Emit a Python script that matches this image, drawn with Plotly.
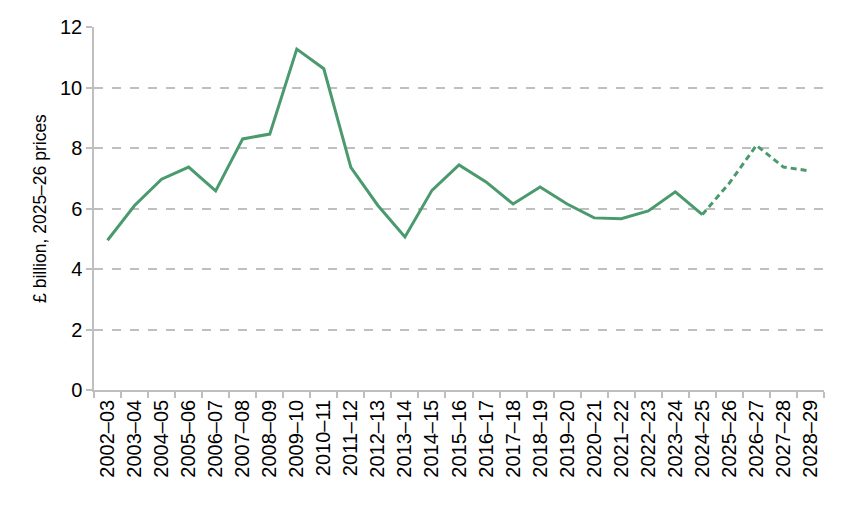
import plotly.graph_objects as go

years = ["2002–03", "2003–04", "2004–05", "2005–06", "2006–07", "2007–08", "2008–09",
         "2009–10", "2010–11", "2011–12", "2012–13", "2013–14", "2014–15", "2015–16",
         "2016–17", "2017–18", "2018–19", "2019–20", "2020–21", "2021–22", "2022–23",
         "2023–24", "2024–25", "2025–26", "2026–27", "2027–28", "2028–29"]

spending = [4.95, 6.10, 6.97, 7.37, 6.58, 8.30, 8.46, 11.27, 10.62, 7.36, 6.10, 5.06,
            6.60, 7.44, 6.88, 6.15, 6.71, 6.15, 5.69, 5.66, 5.92, 6.55, 5.80,
            6.84, 8.09, 7.37, 7.24]

last_outturn = "2024–25"
split = years.index(last_outturn)

outturn = [v if i <= split else None for i, v in enumerate(spending)]
forecast = [v if i >= split else None for i, v in enumerate(spending)]

green = "#4A9A6E"
grid = "#BFBFBF"

fig = go.Figure()
fig.add_trace(go.Scatter(x=years, y=outturn, mode="lines",
                         line=dict(color=green, width=3), showlegend=False))
fig.add_trace(go.Scatter(x=years, y=forecast, mode="lines",
                         line=dict(color=green, width=3, dash="6px,4px"), showlegend=False))

fig.update_layout(
    width=848, height=505,
    margin=dict(l=94, r=24, t=27, b=115),
    plot_bgcolor="white", paper_bgcolor="white",
    font=dict(family="Liberation Sans, Arial, sans-serif", color="#000000"),
)
fig.update_xaxes(
    type="category", tickangle=-90, tickson="boundaries",
    ticks="outside", ticklen=6, tickcolor=grid, tickwidth=1.5,
    showline=True, linecolor=grid, linewidth=1.5,
    showgrid=False, tickfont=dict(size=20), range=[-0.5, len(years) - 0.5],
)
fig.update_yaxes(
    range=[0, 12], dtick=2, tick0=0,
    showgrid=True, gridcolor=grid, griddash="dash", gridwidth=1.5,
    ticks="outside", ticklen=6, tickcolor=grid, tickwidth=1.5,
    showline=True, linecolor=grid, linewidth=1.5, zeroline=False,
    tickfont=dict(size=20),
    title=dict(text="£ billion, 2025–26 prices", font=dict(size=17.5), standoff=9),
)

fig.write_html("out.html")
